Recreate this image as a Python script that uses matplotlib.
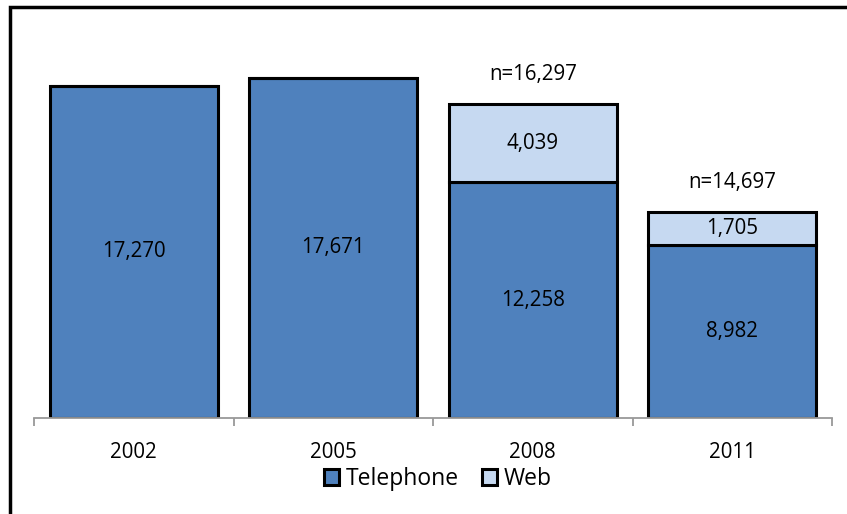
import matplotlib.pyplot as plt
from matplotlib.patches import Rectangle, Patch

years = ["2002", "2005", "2008", "2011"]
telephone = [17270, 17671, 12258, 8982]
web = [0, 0, 4039, 1705]
n_labels = ["", "", "n=16,297", "n=14,697"]

plt.rcParams['font.family'] = ['Open Sans', 'DejaVu Sans']

fig = plt.figure(figsize=(8.47, 5.14), dpi=100)
ax = fig.add_axes([34 / 847, 96 / 514, 798 / 847, 384 / 514])

x = range(len(years))
w = 0.84
ax.bar(x, telephone, width=w, color="#4F81BD", edgecolor="black", linewidth=2.2)
ax.bar(x, web, width=w, bottom=telephone, color="#C6D9F1", edgecolor="black", linewidth=2.2)

# segment labels
fs = 14.8
for i in x:
    ax.text(i, telephone[i] / 2, f"{telephone[i]:,}", ha="center", va="center", fontsize=fs)
    if web[i] > 0:
        ax.text(i, telephone[i] + web[i] / 2, f"{web[i]:,}", ha="center", va="center", fontsize=fs)
        ax.annotate(n_labels[i], (i, telephone[i] + web[i]), xytext=(0, 21.5),
                    textcoords="offset points", ha="center", va="center", fontsize=fs)

ax.set_xlim(-0.5, 3.5)
ax.set_ylim(0, 19950)
ax.set_xticks([i for i in x])
ax.set_xticklabels(years, fontsize=fs)
ax.set_xticks([-0.5, 0.5, 1.5, 2.5, 3.5], minor=True)
ax.tick_params(axis="x", which="major", length=0, pad=17)
ax.tick_params(axis="x", which="minor", length=6, color="#999999", width=1.3)
ax.set_yticks([])
for s in ["top", "right", "left"]:
    ax.spines[s].set_visible(False)
ax.spines["bottom"].set_color("#999999")
ax.spines["bottom"].set_linewidth(1.3)

handles = [Patch(facecolor="#4F81BD", edgecolor="black", linewidth=2.2),
           Patch(facecolor="#C6D9F1", edgecolor="black", linewidth=2.2)]
fig.legend(handles, ["Telephone", "Web"], loc="center", bbox_to_anchor=(438 / 847, 1 - 479 / 514),
           ncol=2, frameon=False, fontsize=16.5, handlelength=0.65, handleheight=0.65,
           handletextpad=0.3, columnspacing=1.0)

# outer frame
fig.patches.append(Rectangle((10 / 847, -0.1), 1.2, 1 - 7 / 514 + 0.1, transform=fig.transFigure,
                             fill=False, edgecolor="black", linewidth=2.5))

fig.savefig("out.png", dpi=100)
